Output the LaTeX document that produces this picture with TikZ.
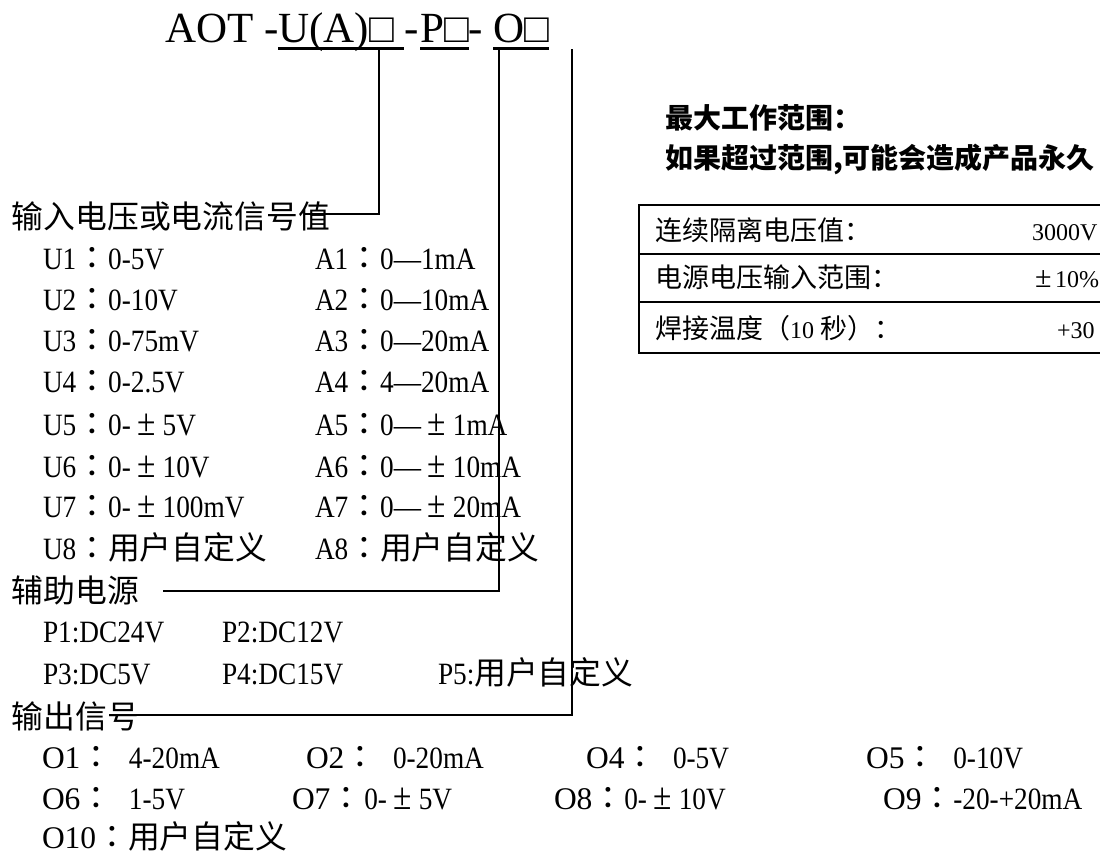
\documentclass[tikz,border=0pt]{standalone}
\usepackage{fontspec}
\setmainfont{Liberation Serif}
\newfontfamily\cjk{Noto Sans CJK SC}
\newfontfamily\cjkc{Noto Sans CJK TC}
\newfontfamily\latn[FakeStretch=0.88]{Liberation Serif}
\newcommand\Lt[1]{{\latn\fontsize{31}{32}\selectfont #1}}
\newcommand\Zh[1]{{\cjk\fontsize{31.8}{32}\selectfont #1}}
\newcommand\cc{{\cjkc\fontsize{31.8}{32}\selectfont ：}}
\newcommand\Ol[1]{{\fontsize{31.5}{32}\selectfont #1}}
\newcommand\pmw{\makebox[31.8pt][c]{\fontsize{38}{38}\selectfont ±}}
\newcommand\Tz[1]{{\cjk\fontsize{27}{28}\selectfont #1}}
\newcommand\Tl[1]{{\fontsize{24}{26}\selectfont #1}}
\newcommand\pmt{\makebox[20pt][l]{\fontsize{30}{30}\selectfont ±}}
\newcommand\sq{{\fontsize{41}{41}\selectfont □}}
\begin{document}
\begin{tikzpicture}[x=1pt,y=-1pt,
  txt/.style={anchor=base west,inner sep=0pt,outer sep=0pt},
  ttl/.style={anchor=base west,inner sep=0pt,outer sep=0pt,font=\fontsize{43}{43}\selectfont},
  conn/.style={line width=1.8pt},
  ul/.style={line width=3pt},
  cell/.style={draw,line width=2pt,anchor=north west,minimum width=480pt,inner sep=0pt,outer sep=0pt}]
\useasboundingbox (0,0) rectangle (1100,856);
\fill[white] (0,0) rectangle (1100,856);
\clip (0,0) rectangle (1100,856);

% title
\node[ttl] (ta) at (165,43) {AOT -};
\node[ttl] (tb) at (ta.base east) {U(A)\sq\kern10pt};
\node[ttl] (tc) at (tb.base east) {\kern1pt-\kern1pt};
\node[ttl] (td) at (tc.base east) {P\sq};
\node[ttl] (te) at (td.base east) {-\kern10pt};
\node[ttl] (tf) at (te.base east) {O\sq};
\draw[ul] ([yshift=-6pt]tb.base west) -- ([yshift=-6pt]tb.base east);
\draw[ul] ([yshift=-6pt]td.base west) -- ([yshift=-6pt]td.base east);
\draw[ul] ([yshift=-6pt]tf.base west) -- ([yshift=-6pt]tf.base east);
\coordinate (t1) at (379,50);
\coordinate (t2) at (499,50);
\coordinate (t3) at (572,49);

% input list
\node[txt] (r0) at (12,228) {\Zh{输入电压或电流信号值}};
\node[txt] (u1) at (43,269) {\Lt{U1}\cc\Lt{0-5V}};
\node[txt] (a1) at (315,269) {\Lt{A1}\cc\Lt{0—1mA}};
\node[txt] (u2) at (43,310) {\Lt{U2}\cc\Lt{0-10V}};
\node[txt] (a2) at (315,310) {\Lt{A2}\cc\Lt{0—10mA}};
\node[txt] (u3) at (43,351) {\Lt{U3}\cc\Lt{0-75mV}};
\node[txt] (a3) at (315,351) {\Lt{A3}\cc\Lt{0—20mA}};
\node[txt] (u4) at (43,392) {\Lt{U4}\cc\Lt{0-2.5V}};
\node[txt] (a4) at (315,392) {\Lt{A4}\cc\Lt{4—20mA}};
\node[txt] (u5) at (43,435) {\Lt{U5}\cc\Lt{0-\pmw5V}};
\node[txt] (a5) at (315,435) {\Lt{A5}\cc\Lt{0—\pmw1mA}};
\node[txt] (u6) at (43,477) {\Lt{U6}\cc\Lt{0-\pmw10V}};
\node[txt] (a6) at (315,477) {\Lt{A6}\cc\Lt{0—\pmw10mA}};
\node[txt] (u7) at (43,517) {\Lt{U7}\cc\Lt{0-\pmw100mV}};
\node[txt] (a7) at (315,517) {\Lt{A7}\cc\Lt{0—\pmw20mA}};
\node[txt] (u8) at (43,559) {\Lt{U8}\cc\Zh{用户自定义}};
\node[txt] (a8) at (315,559) {\Lt{A8}\cc\Zh{用户自定义}};

% power
\node[txt] (p0) at (12,602) {\Zh{辅助电源}};
\node[txt] (p1) at (43,642) {\Lt{P1:DC24V}};
\node[txt] (p2) at (222,642) {\Lt{P2:DC12V}};
\node[txt] (p3) at (43,684) {\Lt{P3:DC5V}};
\node[txt] (p4) at (222,684) {\Lt{P4:DC15V}};
\node[txt] (p5) at (438,684) {\Lt{P5:}\Zh{用户自定义}};

% output
\node[txt] (o0) at (12,728) {\Zh{输出信号}};
\node[txt] (o1) at (42,768) {\Ol{O1}\cc\hspace{16.7pt}\Lt{4-20mA}};
\node[txt] (o2) at (306,768) {\Ol{O2}\cc\hspace{16.7pt}\Lt{0-20mA}};
\node[txt] (o4) at (586,768) {\Ol{O4}\cc\hspace{16.7pt}\Lt{0-5V}};
\node[txt] (o5) at (866,768) {\Ol{O5}\cc\hspace{17pt}\Lt{0-10V}};
\node[txt] (o6) at (42,809) {\Ol{O6}\cc\hspace{16.7pt}\Lt{1-5V}};
\node[txt] (o7) at (292,809) {\Ol{O7}\cc\hspace{2pt}\Lt{0-\pmw5V}};
\node[txt] (o8) at (554,809) {\Ol{O8}\cc\Lt{0-\pmw10V}};
\node[txt] (o9) at (883,809) {\Ol{O9}\cc\Lt{-20-+20mA}};
\node[txt] (o10) at (42,848) {\Ol{O10}\cc\Zh{用户自定义}};

% connectors
\coordinate (s1) at (305,214);
\coordinate (s2) at (163,591);
\coordinate (s3) at (136,715);
\draw[conn] (s1) -| (t1);
\draw[conn] (s2) -| (t2);
\draw[conn] (s3) -| (t3);

% right: heading
\node[txt] (h1) at (665,128.5) {\cjk\bfseries\fontsize{28}{30}\selectfont 最大工作范围：};
\node[txt] (h2) at (665,168.5) {\cjk\bfseries\fontsize{28}{30}\selectfont 如果超过范围,可能会造成产品永久};

% table
\node[cell,minimum height=49pt] (tr1) at (639,205) {};
\node[cell,minimum height=48pt] (tr2) at (639,254) {};
\node[cell,minimum height=51pt] (tr3) at (639,302) {};
\node[txt] (k1) at (655,240) {\Tz{连续隔离电压值：}};
\node[txt] (v1) at (1032,240) {\Tl{3000V}};
\node[txt] (k2) at (655,287) {\Tz{电源电压输入范围：}};
\node[txt] (v2) at (1035,287) {\Tl{\pmt10\%}};
\node[txt] (k3) at (655,338) {\Tz{焊接温度（}\Tl{10 }\Tz{秒）：}};
\node[txt] (v3) at (1057,338) {\Tl{+30}};
\end{tikzpicture}
\end{document}
